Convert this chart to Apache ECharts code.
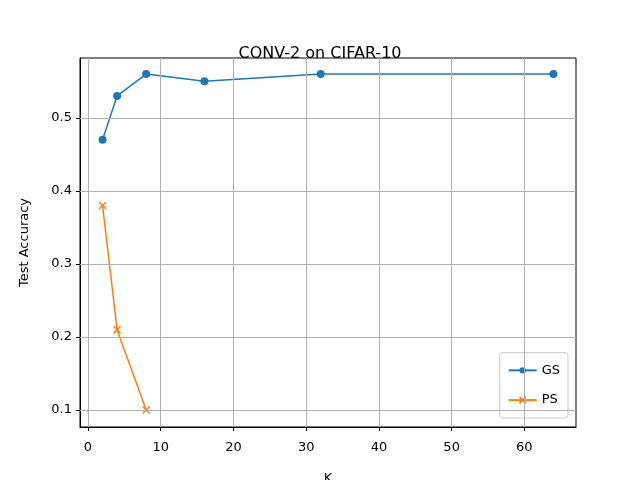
<!DOCTYPE html><html><head><script src="https://cdn.jsdelivr.net/npm/echarts@6/dist/echarts.min.js"></script></head><body style="margin:0"><div id="c" style="width:640px;height:480px"></div><script>
const kGS=[2,4,8,16,32,64];
const gs=[0.47,0.53,0.56,0.55,0.56,0.56];
const kPS=[2,4,8];
const ps=[0.38,0.21,0.10];
const xTicks=[0,10,20,30,40,50,60];
const yTicks=[0.1,0.2,0.3,0.4,0.5];
const ch=echarts.init(document.getElementById('c'));
const font={color:'#000',fontSize:13,fontFamily:'DejaVu Sans'};
ch.setOption({animation:false,
title:{text:'CONV-2 on CIFAR-10',left:'center',top:33,textStyle:{fontSize:16,fontWeight:'normal',fontFamily:'DejaVu Sans',color:'#000'}},
grid:{left:80,right:64,top:58,bottom:53,show:true,borderColor:'#000',borderWidth:1,outerBoundsMode:'none',containLabel:false},
legend:{orient:'vertical',right:72,bottom:62,itemWidth:28,itemHeight:8,borderColor:'#ccc',borderWidth:1,borderRadius:3,padding:[5,8],itemGap:4,textStyle:font,data:['GS','PS']},
xAxis:{type:'value',min:-1.1,max:67.1,name:'K',nameLocation:'middle',nameGap:28,nameTextStyle:font,
 axisLine:{show:true,onZero:false,lineStyle:{color:'#000'}},
 axisTick:{show:true,length:4,customValues:xTicks,lineStyle:{color:'#000'}},
 axisLabel:Object.assign({customValues:xTicks,margin:8},font),splitLine:{show:false}},
yAxis:{type:'value',min:0.0767,max:0.582,name:'Test Accuracy',nameLocation:'middle',nameGap:42,nameTextStyle:font,
 axisLine:{show:true,onZero:false,lineStyle:{color:'#000'}},
 axisTick:{show:true,length:4,customValues:yTicks,lineStyle:{color:'#000'}},
 axisLabel:Object.assign({customValues:yTicks,formatter:v=>v.toFixed(1)},font),splitLine:{show:false}},
series:[
{name:'grid',type:'line',data:[],silent:true,markLine:{silent:true,symbol:'none',label:{show:false},lineStyle:{color:'#b0b0b0',type:'solid',width:1},
 data:xTicks.map(v=>({xAxis:v})).concat(yTicks.map(v=>({yAxis:v})))}},
{name:'GS',type:'line',data:kGS.map((k,i)=>[k,gs[i]]),symbol:'circle',symbolSize:8,color:'#1f77b4',lineStyle:{width:1.5},z:3},
{name:'PS',type:'line',data:kPS.map((k,i)=>[k,ps[i]]),symbol:'path://M0,0L10,10M10,0L0,10',symbolSize:7,itemStyle:{borderColor:'#ff7f0e',borderWidth:1.5,color:'#ff7f0e'},color:'#ff7f0e',lineStyle:{width:1.5},z:3}
]});
</script></body></html>
